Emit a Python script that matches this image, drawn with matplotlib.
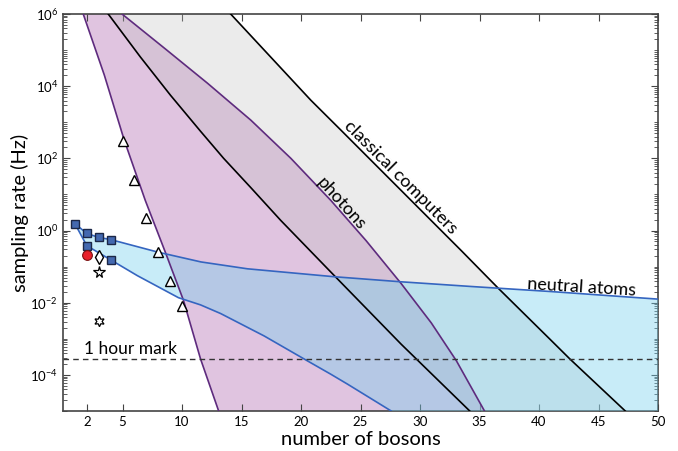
import numpy as np
import matplotlib
matplotlib.use("Agg")
import matplotlib.pyplot as plt
from matplotlib.ticker import FixedLocator, FuncFormatter, NullFormatter

plt.rcParams['font.family'] = ['Lato', 'DejaVu Sans']
plt.rcParams['mathtext.fontset'] = 'custom'
plt.rcParams['mathtext.rm'] = 'Lato'

# curves: number of bosons vs log10(sampling rate / Hz)
photon_lo_n = [1.7, 3.47, 5.15, 6.92, 8.61, 10.13, 11.56, 13.08]
photon_lo_y = [6.0, 4.31, 2.5, 0.83, -0.61, -1.94, -3.56, -5.0]
photon_hi_n = [4.96, 8.61, 12.15, 15.78, 19.15, 22.52, 25.47, 28.42, 30.95, 33.06, 35.42]
photon_hi_y = [6.0, 5.03, 4.08, 3.06, 2.0, 0.83, -0.28, -1.47, -2.56, -3.61, -5.0]

classic_lo_n = [3.8, 6.5, 9.03, 11.56, 13.5, 15.78, 18.3, 22.8, 28.42, 34.18]
classic_lo_y = [6.0, 4.81, 3.75, 2.75, 2.0, 1.19, 0.28, -1.25, -3.15, -5.0]
classic_hi_n = [14.09, 20.83, 23.36, 33.48, 36.58, 41.07, 42.6, 47.25]
classic_hi_y = [6.0, 3.61, 2.78, -0.56, -1.6, -3.06, -3.56, -5.0]

atoms_hi_n = [1, 2, 3, 4, 8, 11.6, 15.5, 22.8, 28.4, 34.3, 41, 50]
atoms_hi_y = [0.19, -0.08, -0.19, -0.25, -0.6, -0.87, -1.06, -1.28, -1.42, -1.55, -1.69, -1.9]
atoms_lo_n = [1, 2, 4, 6.25, 9.7, 11.56, 13.25, 16.9, 20.27, 22.5, 23.93, 27.58]
atoms_lo_y = [0.19, -0.42, -0.81, -1.25, -1.86, -2.06, -2.3, -2.92, -3.56, -3.98, -4.26, -5.0]

# experiments
sq_n = [1, 2, 3, 4, 2, 4]
sq_y = [0.19, -0.08, -0.19, -0.25, -0.42, -0.81]
tri_n = [5, 6, 7, 8, 9, 10]
tri_y = [2.48, 1.41, 0.35, -0.60, -1.39, -2.08]
red_n, red_y = [2], [-0.69]
gem_n, gem_y = [3], [-0.74]
star_n, star_y = [3], [-1.16]
hexa_n, hexa_y = [3], [-2.52]

one_hour = 1.0 / 3600
xticks = [2, 5, 10, 15, 20, 25, 30, 35, 40, 45, 50]
ymajor = [-4, -2, 0, 2, 4, 6]


def p(v):
    return 10.0 ** np.asarray(v)


fig = plt.figure(figsize=(6.78, 4.51), dpi=100)
ax = fig.add_axes([63 / 678, 40 / 451, 595 / 678, 397 / 451])
ax.set_yscale('log')
xmin, xmax = 0, 50
ymin, ymax = 1e-5, 1e6

# photons band
pn = photon_lo_n + photon_hi_n[::-1]
py = photon_lo_y + photon_hi_y[::-1]
ax.fill(pn, p(py), color='#b26cb2', alpha=0.4, lw=0, zorder=1)
# classical band
cn = classic_lo_n + classic_hi_n[::-1]
cy = classic_lo_y + classic_hi_y[::-1]
ax.fill(cn, p(cy), color='#c0c0c0', alpha=0.3, lw=0, zorder=2)
# neutral atoms band
an = atoms_hi_n + [xmax] + atoms_lo_n[::-1]
ay = list(p(atoms_hi_y)) + [ymin] + list(p(atoms_lo_y[::-1]))
ax.fill(an, ay, color='#76d0ee', alpha=0.4, lw=0, zorder=3)

purple = '#5e2b7e'
blue = '#3565c0'
ax.plot(photon_lo_n, p(photon_lo_y), color=purple, lw=1.2, zorder=4)
ax.plot(photon_hi_n, p(photon_hi_y), color=purple, lw=1.2, zorder=4)
ax.plot(classic_lo_n, p(classic_lo_y), color='black', lw=1.2, zorder=4)
ax.plot(classic_hi_n, p(classic_hi_y), color='black', lw=1.2, zorder=4)
ax.plot(atoms_hi_n, p(atoms_hi_y), color=blue, lw=1.2, zorder=4)
ax.plot(atoms_lo_n, p(atoms_lo_y), color=blue, lw=1.2, zorder=4)

ax.axhline(one_hour, color='#333333', lw=1, dashes=(4, 3), zorder=5)
ax.text(5.7, one_hour * 1.9, '1 hour mark', fontsize=12.5, ha='center', va='center', zorder=6)

ax.plot(sq_n, p(sq_y), 's', ms=6, mfc='#4469b0', mec='#1b2747', mew=1, zorder=7)
ax.plot(tri_n, p(tri_y), '^', ms=7, mfc='white', mec='black', mew=1, zorder=7)
ax.plot(red_n, p(red_y), 'o', ms=7, mfc='#e8202a', mec='#7a1010', mew=0.8, zorder=7)
ax.plot(gem_n, p(gem_y), 'd', ms=7.5, mfc='white', mec='black', mew=1, zorder=7)
ax.plot(star_n, p(star_y), '*', ms=8.5, mfc='white', mec='black', mew=0.9, zorder=7)
ax.plot(hexa_n, p(hexa_y), marker=(6, 1, 0), ls='none', ms=7.5, mfc='white', mec='black', mew=0.9, zorder=7)

ax.text(28.4, p(1.47), 'classical computers', fontsize=13, rotation=-45,
        ha='center', va='center', rotation_mode='anchor', zorder=6)
ax.text(23.4, p(0.75), 'photons', fontsize=13, rotation=-48,
        ha='center', va='center', rotation_mode='anchor', zorder=6)
ax.text(43.6, p(-1.58), 'neutral atoms', fontsize=13, rotation=-3.5,
        ha='center', va='center', rotation_mode='anchor', zorder=6)

ax.set_xlim(xmin, xmax)
ax.set_ylim(ymin, ymax)
ax.xaxis.set_major_locator(FixedLocator(xticks))
ax.yaxis.set_major_locator(FixedLocator(p(ymajor)))
minors = [m * 10.0 ** e for e in range(-5, 6) for m in range(1, 10) if not (m == 1 and e in ymajor)]
ax.yaxis.set_minor_locator(FixedLocator(minors))
ax.yaxis.set_minor_formatter(NullFormatter())
ax.yaxis.set_major_formatter(FuncFormatter(lambda v, pos: r'$10^{%d}$' % int(round(np.log10(v)))))
ax.tick_params(which='both', direction='in', top=True, right=True, labelsize=9.5, color='#444444')
ax.tick_params(which='major', length=5)
ax.tick_params(which='minor', length=3)
for s in ax.spines.values():
    s.set_color('#444444')
    s.set_linewidth(1.2)

ax.set_xlabel('number of bosons', fontsize=14.5, labelpad=2)
ax.set_ylabel('sampling rate (Hz)', fontsize=14.5, labelpad=1)

fig.savefig('out.png', dpi=100)
